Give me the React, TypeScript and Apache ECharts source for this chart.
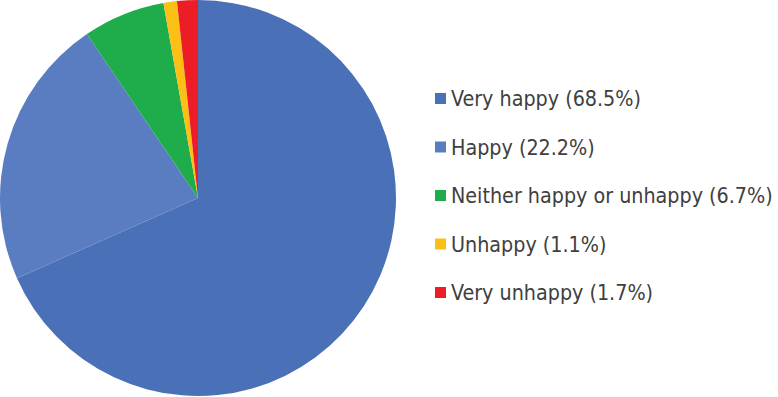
import React, { useEffect, useRef } from "react";
import * as echarts from "echarts";

const categories = ["Very happy", "Happy", "Neither happy or unhappy", "Unhappy", "Very unhappy"];
const values = [68.5, 22.2, 6.7, 1.1, 1.7];
const colors = ["#4a70b7", "#5a7cc1", "#1fad4c", "#fcbf16", "#ec1d25"];

export default function App() {
  const ref = useRef<HTMLDivElement>(null);
  useEffect(() => {
    const chart = echarts.init(ref.current!, null, { renderer: "svg" });
    chart.setOption({
      animation: false,
      backgroundColor: "#ffffff",
      legend: {
        orient: "vertical",
        left: 435,
        top: 87.5,
        padding: 0,
        itemWidth: 11,
        itemHeight: 11,
        itemGap: 26.5,
        icon: "rect",
        textStyle: {
          fontFamily: "DejaVu Sans Condensed, sans-serif",
          fontSize: 21.3,
          lineHeight: 22,
          color: "#404040",
        },
        formatter: (name: string) => {
          const i = categories.indexOf(name);
          return `${name} (${values[i].toFixed(1)}%)`;
        },
      },
      series: [
        {
          type: "pie",
          center: [198, 198],
          radius: [0, 198],
          startAngle: 90,
          clockwise: true,
          label: { show: false },
          labelLine: { show: false },
          itemStyle: { borderWidth: 0 },
          data: categories.map((c, i) => ({ name: c, value: values[i], itemStyle: { color: colors[i] } })),
        },
      ],
    });
    return () => chart.dispose();
  }, []);
  return <div ref={ref} style={{ position: "absolute", left: 0, top: 0, width: 778, height: 397 }} />;
}
